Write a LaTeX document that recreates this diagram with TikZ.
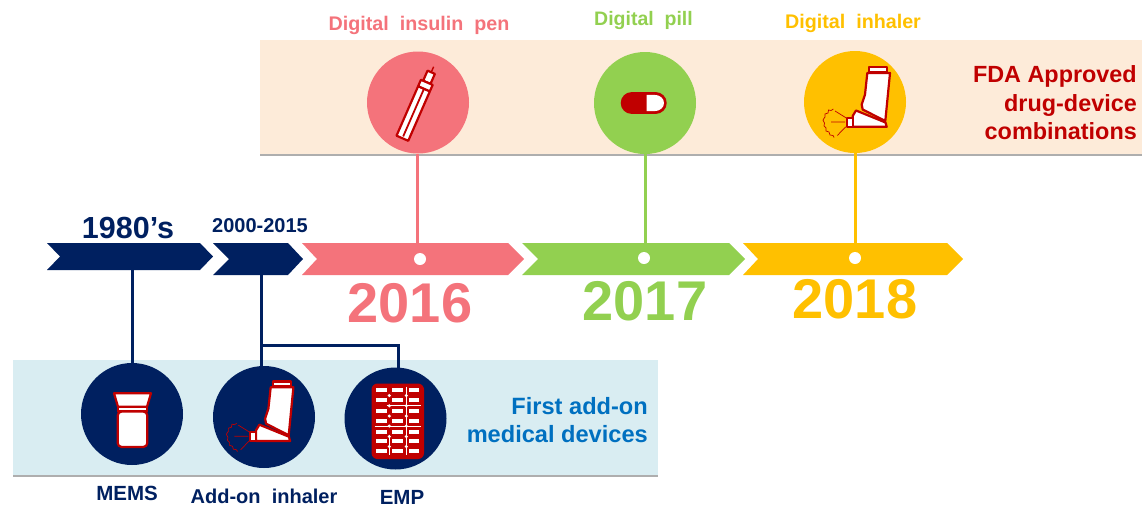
\documentclass[tikz,border=0pt]{standalone}
\usepackage{fontspec}
\setmainfont{Liberation Sans}
\usetikzlibrary{shadows}
\definecolor{navy}{HTML}{002060}
\definecolor{pinkc}{HTML}{F4737B}
\definecolor{greenc}{HTML}{92D050}
\definecolor{yellowc}{HTML}{FFC000}
\definecolor{redc}{HTML}{C00000}
\definecolor{bluet}{HTML}{0070C0}
\definecolor{bandtop}{HTML}{FDEBD9}
\definecolor{bandbot}{HTML}{D9EDF2}
\newcommand{\fs}[1]{\fontsize{#1}{#1}\selectfont\bfseries}
\tikzset{
  x=1pt,y=-1pt,
  band/.style={fill=#1,inner sep=0pt,outer sep=0pt,drop shadow={shadow xshift=0pt,shadow yshift=-2pt,fill=black!45,opacity=.7}},
  disc/.style={circle,fill=#1,minimum size=102pt,inner sep=0pt,outer sep=0pt},
  dot/.style={circle,fill=white,minimum size=12pt,inner sep=0pt,outer sep=0pt},
  link/.style={line width=3pt,draw=#1},
  lbl/.style={inner sep=0pt,text=#1},
  icon/.style={draw=redc,fill=white,line width=2.2pt,line join=round},
  pics/inhaler/.style={code={
    \draw[icon] (14.3,-34.8) rectangle (32.3,-29.8);
    \draw[icon] (12.3,-29) -- (35,-29) -- (30.3,19) -- (7.7,7.5) -- (6.7,2.5) -- (10,-7.5) -- cycle;
    \draw[icon] (1,8.5) -- (30.5,20.5) -- (31.7,24.8) -- (-2.3,24.8) -- (-2.3,14) -- cycle;
    \draw[icon] (-8.3,15.8) rectangle (-2.3,24.8);
    \draw[draw=redc,line width=.7pt] (-10,20) -- (-24,20) (-9,15.8) -- (-20,9) (-9.3,24.8) -- (-17.7,33.5);
    \draw[draw=redc,line width=.7pt] plot[smooth] coordinates {(-21.7,7) (-24,8.5) (-26.5,8) (-27,11) (-30,12) (-30,15) (-32,18) (-30.5,21) (-31,24) (-29,26) (-29,29) (-26,30) (-25,33) (-22,33.5) (-21,35.5)};
  }},
  pics/cup/.style={code={
    \draw[icon] (-18,-20.7) -- (19,-20.7) -- (15,-7.3) -- (-14,-7.3) -- cycle;
    \draw[icon] (-14,-7.3) rectangle (15,-2.5);
    \draw[icon,rounded corners=4pt] (-14.3,-2.5) -- (15.3,-2.5) -- (15.3,33) -- (-14.3,33) -- cycle;
  }},
  pics/pen/.style={code={
    \begin{scope}[rotate=-23.6]
      \draw[draw=redc,line width=1.4pt] (0,-33) -- (0,-39);
      \draw[icon] (-4,-33) rectangle (4,-22);
      \draw[icon] (-6.4,39) rectangle (6.4,-15);
      \draw[icon] (-6.4,-15) rectangle (6.4,-22);
      \draw[draw=redc,line width=1.8pt] (0,37) -- (0,-15);
    \end{scope}
  }},
  pics/pill/.style={code={
    \fill[redc,rounded corners=10.9pt] (-24.3,-10.9) rectangle (21.7,10.9);
    \fill[white] (1.7,-8.2) -- (9,-8.2) .. controls (15,-8.2) and (19,-4.5) .. (19,0) .. controls (19,4.5) and (15,8.2) .. (9,8.2) -- (1.7,8.2) -- cycle;
  }},
  pics/blister/.style={code={
    \fill[redc,rounded corners=6pt] (-24,-35) rectangle (28.5,40.5);
    \foreach \yy in {-28.2,-18.2,-7.5,2.5,13,22.5,32.5}{
      \foreach \xx in {-14,2,18.7}{
        \fill[white] (\xx-5.2,\yy-2) rectangle (\xx+5.2,\yy+2);
      }
    }
    \draw[white,line width=.8pt] (10.8,-32) -- (10.8,36) (-6.2,16) -- (-6.2,36)
      (-21,7.5) -- (25,7.5) (-9,-12.7) -- (25,-12.7);
    \foreach \yy in {-23,-12.7,-2.5,7.5,18,28}{
      \fill[white] (-6.2,\yy) circle (1.7);
      \fill[white] (10.8,\yy) circle (1.7);
    }
  }},
}
\begin{document}
\begin{tikzpicture}
\useasboundingbox (0,0) rectangle (1142,507);
% bands
\node[band=bandtop,minimum width=882pt,minimum height=114pt] (bandT) at (701,97) {};
\node[band=bandbot,minimum width=645pt,minimum height=115pt] (bandB) at (335.5,417.5) {};
% chevrons
\fill[navy] (47,243) -- (200,243) -- (213,256.5) -- (200,270) -- (47,270) -- (60,256.5) -- cycle;
\fill[navy] (213,243) -- (288,243) -- (303,259) -- (288,275) -- (213,275) -- (229,259) -- cycle;
\fill[pinkc] (302,243) -- (508,243) -- (524,259) -- (508,275) -- (302,275) -- (317,259) -- cycle;
\fill[greenc] (522,243) -- (729,243) -- (745,259) -- (729,275) -- (522,275) -- (538,259) -- cycle;
\fill[yellowc] (743,243) -- (947,243) -- (963,259) -- (947,275) -- (743,275) -- (758,259) -- cycle;
\coordinate (c80) at (132,270);
\coordinate (c00) at (261,275);
\coordinate (branch) at (261,345);
\coordinate (elbow) at (398,345);
% discs
\node[disc=pinkc] (dPen) at (418,102.5) {};
\node[disc=greenc] (dPill) at (645,103) {};
\node[disc=yellowc] (dInh) at (855,102) {};
\node[disc=navy] (dMems) at (132,414) {};
\node[disc=navy] (dAdd) at (264,417) {};
\node[disc=navy] (dEmp) at (395.5,418.5) {};
% timeline dots
\node[dot] (p16) at (420,259) {};
\node[dot] (p17) at (644,258) {};
\node[dot] (p18) at (855,258) {};
% connectors
\coordinate (t16) at (417,243);
\coordinate (t17) at (645,243);
\coordinate (t18) at (855,243);
\draw[link=pinkc] (417,154) -- (t16);
\draw[link=greenc] (dPill.south) -- (t17);
\draw[link=yellowc] (dInh.south) -- (t18);
\draw[link=navy] (c80) -- (dMems.north);
\draw[link=navy] (c00) -- (261,366);
\draw[link=navy] (branch) -- (elbow) -- (398,368);
% icons
\pic at (dPen) {pen};
\pic at (dPill) {pill};
\pic at (dInh) {inhaler};
\pic at (dMems) {cup};
\pic at (258.4,416.2) {inhaler};
\pic at (dEmp) {blister};
% texts
\node[lbl=pinkc] (tPen) at (419,25) {\fs{19.7}Digital\ \ insulin\ \ pen};
\node[lbl=greenc] (tPill) at (643.5,20) {\fs{19.5}Digital\ \ pill};
\node[lbl=yellowc] (tInh) at (853,23) {\fs{19.7}Digital\ \ inhaler};
\node[lbl=redc,align=right,anchor=east,font=\fontsize{23.4}{28.5}\selectfont\bfseries] (tFda) at (1137,103) {FDA Approved\\drug-device\\combinations};
\node[lbl=bluet,align=right,anchor=east,font=\fontsize{23.6}{28}\selectfont\bfseries] (tFirst) at (648,420) {First add-on\\medical devices};
\node[lbl=navy] (t80) at (128,228) {\fs{30.5}1980’s};
\node[lbl=navy] (t00) at (260,226) {\fs{20}2000-2015};
\node[lbl=pinkc] (t16l) at (410,303) {\fs{56}2016};
\node[lbl=greenc] (t17l) at (645,301) {\fs{56}2017};
\node[lbl=yellowc] (t18l) at (855,299) {\fs{56}2018};
\node[lbl=navy] (tMems) at (127,493) {\fs{20.5}MEMS};
\node[lbl=navy] (tAdd) at (264,496) {\fs{20}Add-on\ \ inhaler};
\node[lbl=navy] (tEmp) at (402,497) {\fs{20.5}EMP};
\end{tikzpicture}
\end{document}
